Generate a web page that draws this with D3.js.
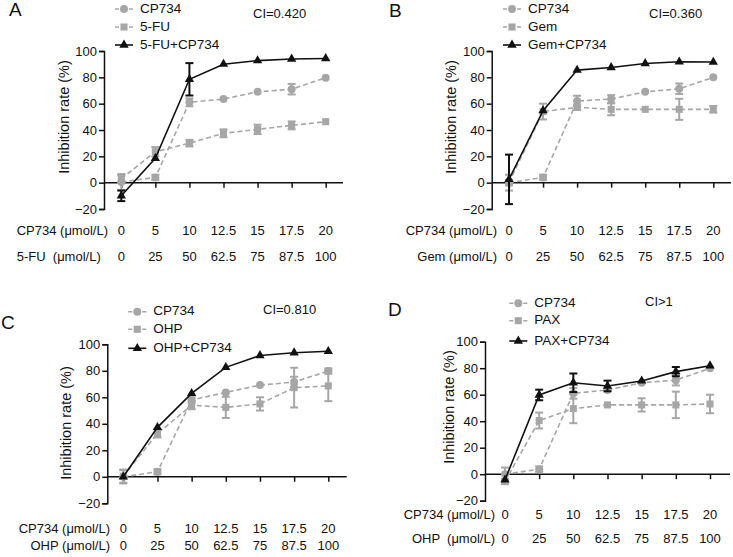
<!DOCTYPE html>
<html lang="en">
<head>
  <meta charset="utf-8">
  <title>Inhibition rate</title>
  <style>
    body { margin: 0; background: #fff; }
    svg text { font-family: "Liberation Sans", Arial, sans-serif; fill: #111; white-space: pre; }
  </style>
</head>
<body>
  <div id="chart"></div>
  <script src="https://d3js.org/d3.v7.min.js"></script>
  <script>
    // concentrations (tick labels under the x axis)
    var cp734Conc = ["0", "5", "10", "12.5", "15", "17.5", "20"];
    var drugConc = ["0", "25", "50", "62.5", "75", "87.5", "100"];
    var yTicks = [-20, 0, 20, 40, 60, 80, 100];

    // panel A: 5-FU
    var cpA = [0.5, 4, 61, 63.5, 69, 71, 79.7];
    var cpAErr = [6, 2, 3, 1, 1, 4, 1];
    var fuA = [3, 23.5, 30, 37.5, 40.5, 43.5, 46.3];
    var fuAErr = [3, 3.5, 2.5, 3, 3.5, 3, 1];
    var comboA = [-10, 18.5, 78.5, 90, 92.7, 93.9, 94.3];
    var comboAErr = [4, 1, 12.3, 1, 1, 1, 1];

    // panel B: Gem
    var cpB = [0, 4, 62, 63.5, 69, 71.3, 80];
    var cpBErr = [6, 2, 4, 3, 1, 4, 1];
    var gemB = [0, 54, 57.2, 55.7, 55.7, 55.7, 55.7];
    var gemBErr = [2, 6, 2, 4.5, 1, 8, 2.5];
    var comboB = [2.5, 54.7, 85.5, 87.5, 90.5, 91.8, 91.6];
    var comboBErr = [18.8, 1, 1, 1, 1, 1, 1];

    // panel C: OHP
    var cpC = [0, 3.8, 58, 63.7, 69.2, 71.5, 79.8];
    var cpCErr = [5, 2, 2, 1, 1, 4, 2];
    var ohpC = [0.5, 32.7, 54, 52.4, 55, 67.3, 68.6];
    var ohpCErr = [5, 3, 3, 8, 5, 15, 11.5];
    var comboC = [0, 37.3, 63, 82.6, 91.6, 93.6, 94.7];
    var comboCErr = [1, 1, 1, 1, 1, 1, 1];

    // panel D: PAX
    var cpD = [0, 3.8, 61, 63.6, 69, 71, 79.9];
    var cpDErr = [5, 2, 4, 1, 1, 4, 1];
    var paxD = [-5.5, 40.5, 49.5, 52.3, 52.3, 52.3, 53];
    var paxDErr = [2, 6, 11, 1, 5, 10, 7];
    var comboD = [-4.3, 59.8, 69, 66.6, 70.4, 77.4, 81.9];
    var comboDErr = [1, 4, 7, 4, 1, 3.5, 1];

    var GREY = "#a6a6a6", BLACK = "#111";

    var svg = d3.select("#chart").append("svg")
      .attr("width", 733).attr("height", 557);

    var panels = [
      { letter: "A", lx: 9, ly: 15.5, ax: 104, top: 51, bot: 209, x0: 121.3, x1: 325.7, xEnd: 343,
        drug: "5-FU", drugLabel: "5-FU  (\u03bcmol/L)", ci: "CI=0.420", cix: 253, ciy: 18,
        legX: 115, legY: [9, 27, 45], ylx: 65, yly: 117,
        rowY: [235, 261], rowX: 16.7, rowAnchor: "start",
        cp: cpA, cpErr: cpAErr, dr: fuA, drErr: fuAErr, co: comboA, coErr: comboAErr },
      { letter: "B", lx: 389, ly: 17, ax: 491.7, top: 51, bot: 209, x0: 509, x1: 713.3, xEnd: 731,
        drug: "Gem", drugLabel: "Gem (\u03bcmol/L)", ci: "CI=0.360", cix: 649, ciy: 18,
        legX: 503, legY: [9, 27, 45], ylx: 451.7, yly: 117,
        rowY: [235, 261], rowX: 497, rowAnchor: "end",
        cp: cpB, cpErr: cpBErr, dr: gemB, drErr: gemBErr, co: comboB, coErr: comboBErr },
      { letter: "C", lx: 1, ly: 329, ax: 107.3, top: 344.3, bot: 503.3, x0: 123.3, x1: 328.3, xEnd: 346.7,
        drug: "OHP", drugLabel: "OHP (\u03bcmol/L)", ci: "CI=0.810", cix: 263, ciy: 314,
        legX: 128.3, legY: [311.7, 329.3, 348.3], ylx: 66.7, yly: 423,
        rowY: [533, 550], rowX: 110, rowAnchor: "end",
        cp: cpC, cpErr: cpCErr, dr: ohpC, drErr: ohpCErr, co: comboC, coErr: comboCErr },
      { letter: "D", lx: 388, ly: 315.5, ax: 485, top: 341.7, bot: 500.7, x0: 505, x1: 710, xEnd: 730,
        drug: "PAX", drugLabel: "OHP  (\u03bcmol/L)", ci: "CI>1", cix: 645, ciy: 306,
        legX: 509.3, legY: [303.3, 320.7, 341], ylx: 450, yly: 407,
        rowY: [519, 543], rowX: 495, rowAnchor: "end",
        cp: cpD, cpErr: cpDErr, dr: paxD, drErr: paxDErr, co: comboD, coErr: comboDErr }
    ];

    var circleSym = d3.symbol().type(d3.symbolCircle).size(50);
    var squareSym = d3.symbol().type(d3.symbolSquare).size(50);
    var triSym = d3.symbol().type(d3.symbolTriangle).size(38);

    panels.forEach(function(p) {
      var g = svg.append("g");
      var x = d3.scalePoint().domain(cp734Conc).range([p.x0, p.x1]);
      var y = d3.scaleLinear().domain([-20, 100]).range([p.bot, p.top]);

      // y axis
      var yAxis = d3.axisLeft(y).tickValues(yTicks).tickSize(5).tickPadding(2);
      var ya = g.append("g").attr("transform", "translate(" + p.ax + ",0)").call(yAxis);
      ya.select(".domain").attr("stroke", BLACK).attr("stroke-width", 1.5);
      ya.selectAll(".tick line").attr("stroke", BLACK).attr("stroke-width", 1.5);
      ya.selectAll(".tick text").attr("font-size", 13).style("fill", "#111");

      // x axis along y = 0
      var xAxis = d3.axisBottom(x).tickSize(5).tickFormat("");
      var xa = g.append("g").attr("transform", "translate(0," + y(0) + ")").call(xAxis);
      xa.select(".domain").attr("d", "M" + p.ax + ",0H" + p.xEnd).attr("stroke", BLACK).attr("stroke-width", 1.5);
      xa.selectAll(".tick line").attr("stroke", BLACK).attr("stroke-width", 1.5);

      // concentration rows
      g.append("text").attr("x", p.rowX).attr("y", p.rowY[0]).attr("text-anchor", p.rowAnchor)
        .attr("font-size", 13).text("CP734 (\u03bcmol/L)");
      g.append("text").attr("x", p.rowX).attr("y", p.rowY[1]).attr("text-anchor", p.rowAnchor)
        .attr("font-size", 13).text(p.drugLabel);
      g.selectAll(".r1").data(cp734Conc).enter().append("text")
        .attr("x", function(d) { return x(d); }).attr("y", p.rowY[0])
        .attr("text-anchor", "middle").attr("font-size", 13).text(function(d) { return d; });
      g.selectAll(".r2").data(drugConc).enter().append("text")
        .attr("x", function(d, i) { return x(cp734Conc[i]); }).attr("y", p.rowY[1])
        .attr("text-anchor", "middle").attr("font-size", 13).text(function(d) { return d; });

      // y label
      g.append("text").attr("transform", "translate(" + p.ylx + "," + p.yly + ") rotate(-90)")
        .attr("text-anchor", "middle").attr("dominant-baseline", "middle")
        .attr("font-size", 14.5).text("Inhibition rate (%)");

      // panel letter and CI
      g.append("text").attr("x", p.lx).attr("y", p.ly).attr("font-size", 19).text(p.letter);
      g.append("text").attr("x", p.cix).attr("y", p.ciy).attr("font-size", 13).text(p.ci);

      var series = [
        { vals: p.cp, err: p.cpErr, color: GREY, dash: "5,3", sym: circleSym, name: "CP734" },
        { vals: p.dr, err: p.drErr, color: GREY, dash: "5,3", sym: squareSym, name: p.drug },
        { vals: p.co, err: p.coErr, color: BLACK, dash: null, sym: triSym, name: p.drug + "+CP734" }
      ];

      var line = d3.line()
        .x(function(d, i) { return x(cp734Conc[i]); })
        .y(function(d) { return y(d); });

      series.forEach(function(s) {
        // error bars
        var eb = g.append("g").attr("stroke", s.color).attr("stroke-width", 2);
        s.vals.forEach(function(v, i) {
          var cx = x(cp734Conc[i]);
          var e = s.err[i];
          if (e < 1.5) return;
          eb.append("line").attr("x1", cx).attr("x2", cx).attr("y1", y(v - e)).attr("y2", y(v + e));
          eb.append("line").attr("x1", cx - 4).attr("x2", cx + 4).attr("y1", y(v - e)).attr("y2", y(v - e));
          eb.append("line").attr("x1", cx - 4).attr("x2", cx + 4).attr("y1", y(v + e)).attr("y2", y(v + e));
        });
        g.append("path").datum(s.vals).attr("d", line).attr("fill", "none")
          .attr("stroke", s.color).attr("stroke-width", 1.6)
          .attr("stroke-dasharray", s.dash);
        g.selectAll(null).data(s.vals).enter().append("path")
          .attr("d", s.sym)
          .attr("transform", function(d, i) { return "translate(" + x(cp734Conc[i]) + "," + y(d) + ")"; })
          .attr("fill", s.color);
      });

      // legend
      series.forEach(function(s, k) {
        var ly = p.legY[k];
        g.append("line").attr("x1", p.legX).attr("x2", p.legX + 18).attr("y1", ly).attr("y2", ly)
          .attr("stroke", s.color).attr("stroke-width", 1.6).attr("stroke-dasharray", s.dash ? "4,3" : null);
        g.append("path").attr("d", s.sym).attr("transform", "translate(" + (p.legX + 9) + "," + ly + ")")
          .attr("fill", s.color);
        g.append("text").attr("x", p.legX + 25).attr("y", ly).attr("dominant-baseline", "middle")
          .attr("font-size", 13.5).text(s.name);
      });
    });
  </script>
</body>
</html>
